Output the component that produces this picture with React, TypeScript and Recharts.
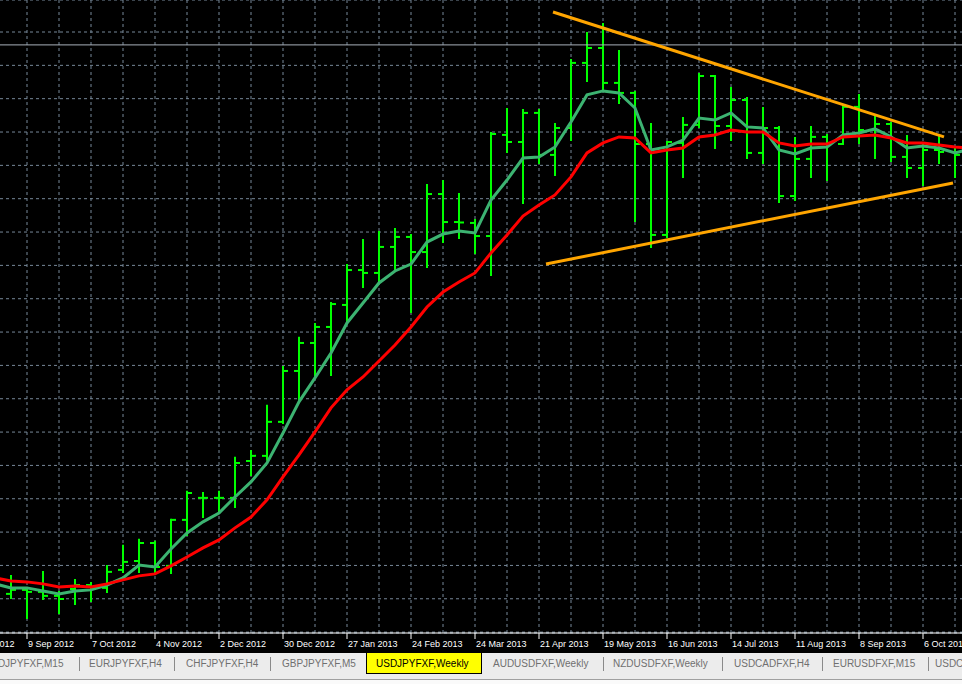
import React from 'react'
import { ComposedChart, Bar, Line, XAxis, YAxis, CartesianGrid, ReferenceLine } from 'recharts'

// USDJPY weekly bars, week 0 = 2 Sep 2012
const opens = [
  78.22, 78.40, 78.31, 78.13, 78.44, 78.62, 78.49, 79.30, 79.70, 80.51,
  79.48, 81.55, 82.54, 82.54, 82.54, 84.20, 84.43, 85.96, 88.25, 89.51,
  90.23, 91.22, 92.79, 92.66, 93.83, 94.28, 93.60, 96.21, 94.95, 94.91,
  94.32, 98.87, 98.55, 99.86, 97.97, 99.18, 102.11, 102.78, 101.21, 100.76,
  98.46, 94.37, 98.51, 99.32, 101.52, 99.27, 100.44, 98.06, 99.18, 96.12,
  97.79, 98.78, 98.46, 100.13, 99.09, 99.36, 97.88, 97.38, 98.19, 98.10,
]
const highs = [
  79.03, 78.44, 79.21, 78.31, 78.85, 78.71, 79.48, 80.38, 80.65, 80.56,
  81.55, 82.81, 82.76, 82.81, 84.34, 84.65, 86.68, 88.43, 89.74, 90.36,
  91.31, 93.02, 94.14, 94.50, 94.64, 94.37, 96.62, 96.80, 96.21, 95.04,
  98.96, 100.04, 99.99, 99.99, 99.36, 102.24, 103.46, 103.86, 102.65, 100.80,
  99.36, 98.55, 99.63, 101.61, 101.52, 100.98, 100.53, 100.08, 99.23, 98.73,
  99.23, 98.87, 100.22, 100.67, 99.77, 99.41, 98.82, 98.51, 98.87, 98.33,
]
const lows = [
  78.04, 77.14, 77.99, 77.36, 77.77, 77.90, 78.31, 79.21, 79.21, 79.16,
  79.16, 80.87, 81.68, 81.86, 82.13, 83.57, 84.25, 85.91, 86.95, 88.03,
  88.07, 90.41, 92.03, 92.21, 92.79, 90.90, 92.93, 94.05, 94.23, 93.56,
  92.57, 98.10, 95.81, 97.61, 97.07, 98.64, 101.30, 100.89, 100.31, 95.00,
  93.83, 94.28, 96.98, 99.23, 98.28, 98.64, 97.83, 97.61, 95.85, 95.94,
  96.98, 96.84, 98.46, 98.51, 97.83, 97.70, 96.98, 96.62, 97.61, 96.98,
]
const closes = [
  78.40, 78.31, 78.13, 77.99, 78.62, 78.53, 79.21, 79.66, 80.51, 79.43,
  81.55, 82.76, 82.54, 82.54, 84.11, 84.43, 85.96, 88.25, 89.51, 90.23,
  91.26, 92.79, 92.66, 93.83, 94.28, 93.60, 96.21, 94.95, 94.93, 94.32,
  98.91, 98.55, 99.86, 97.97, 99.18, 102.11, 102.78, 101.21, 100.76, 98.46,
  94.37, 98.55, 99.32, 101.52, 99.27, 100.44, 98.06, 99.18, 96.12, 97.79,
  98.78, 98.51, 100.13, 99.09, 99.36, 97.88, 97.38, 98.19, 98.10, 97.97,
]

// moving averages, first value = week before week 0, last = week after the last bar
const maFast = [
  78.67, 78.49, 78.49, 78.35, 78.22, 78.35, 78.40, 78.62, 78.94, 79.52, 79.43,
  80.24, 80.96, 81.46, 81.86, 82.58, 83.26, 84.11, 85.46, 86.86, 87.94,
  89.06, 90.41, 91.31, 92.21, 92.75, 93.06, 94.05, 94.41, 94.55, 94.46,
  95.94, 96.84, 97.83, 97.88, 98.33, 99.45, 100.67, 100.85, 100.76, 100.08,
  98.19, 98.33, 98.64, 99.63, 99.54, 99.86, 99.23, 99.18, 98.19, 98.01,
  98.28, 98.33, 98.87, 98.96, 99.14, 98.78, 98.28, 98.37, 98.28, 98.06,
  98.24,
]
const maSlow = [
  78.94, 78.80, 78.76, 78.67, 78.53, 78.58, 78.53, 78.67, 78.85, 79.03, 79.12,
  79.48, 79.88, 80.29, 80.65, 81.19, 81.68, 82.45, 83.48, 84.47, 85.51,
  86.59, 87.40, 87.98, 88.70, 89.42, 90.23, 91.13, 91.80, 92.25, 92.66,
  93.56, 94.37, 95.22, 95.72, 96.17, 96.98, 98.06, 98.51, 98.78, 98.73,
  98.06, 98.19, 98.28, 98.78, 98.87, 99.09, 99.00, 99.00, 98.51, 98.37,
  98.46, 98.46, 98.78, 98.82, 98.87, 98.73, 98.51, 98.51, 98.42, 98.33,
  98.28,
]

// a label every 4 weeks, first one = week -3
const dateLabels = [
  '12 Aug 2012', '9 Sep 2012', '7 Oct 2012', '4 Nov 2012', '2 Dec 2012', '30 Dec 2012',
  '27 Jan 2013', '24 Feb 2013', '24 Mar 2013', '21 Apr 2013', '19 May 2013', '16 Jun 2013',
  '14 Jul 2013', '11 Aug 2013', '8 Sep 2013', '6 Oct 2013',
]

// triangle drawn on the chart (week index, price)
const trendUpper = [{ x: 33.875, y: 104.4 }, { x: 58.3125, y: 98.78 }]
const trendLower = [{ x: 33.4375, y: 93.06 }, { x: 58.875, y: 96.71 }]
const priceLine = 102.92

const tabNames = [
  'CADJPYFXF,M15', 'EURJPYFXF,H4', 'CHFJPYFXF,H4', 'GBPJPYFXF,M5', 'USDJPYFXF,Weekly',
  'AUDUSDFXF,Weekly', 'NZDUSDFXF,Weekly', 'USDCADFXF,H4', 'EURUSDFXF,M15', 'USDCHFFXF,H1',
]
const activeTab = 'USDJPYFXF,Weekly'

// layout
const SHIFT = 48
const CHART_W = 1026
const CHART_H = 653
const X_DOMAIN: [number, number] = [-3.6875, 60.4375]
const Y_DOMAIN: [number, number] = [76.46, 104.94]
const tabX = [-16, 89, 186, 282, 376, 493, 613, 734, 833, 935]
const sepX = [79, 174, 270, 603, 722, 822, 928]

const rows = maFast.map((fast, k) => {
  const i = k - 1
  const has = i >= 0 && i < opens.length
  return {
    i,
    fast,
    slow: maSlow[k],
    open: has ? opens[i] : null,
    close: has ? closes[i] : null,
    high: has ? highs[i] : null,
    low: has ? lows[i] : null,
    range: has ? [lows[i], highs[i]] : null,
  }
})

const labelTicks = dateLabels.map((_, k) => -3 + 4 * k)
const gridTicks: number[] = []
for (let i = -3; i <= 61; i += 2) gridTicks.push(i)
const yTicks: number[] = []
for (let v = 76.5; v <= 105; v += 1.5) yTicks.push(v)

function OhlcBar(props: any) {
  const { x, y, width, height, payload } = props
  if (payload.high == null) return null
  const top = Math.min(y, y + height)
  const h = Math.abs(height)
  const cx = Math.round(x + width / 2)
  const span = payload.high - payload.low || 1
  const py = (v: number) => top + ((payload.high - v) / span) * h
  const yo = py(payload.open)
  const yc = py(payload.close)
  return (
    <g stroke="#00ff00" strokeWidth={2}>
      <line x1={cx} x2={cx} y1={top - 1} y2={top + h + 1} />
      <line x1={cx - 5} x2={cx} y1={yo} y2={yo} />
      <line x1={cx} x2={cx + 5} y1={yc} y2={yc} />
    </g>
  )
}

function DateTick(props: any) {
  const { x, y, payload } = props
  const k = Math.round((payload.value + 3) / 4)
  return (
    <text x={x + 1} y={y + 6} fill="#ffffff" fontSize={9} fontFamily='"Liberation Sans", Arial, sans-serif'>
      {dateLabels[k]}
    </text>
  )
}

export default function App() {
  return (
    <div style={{ position: 'fixed', left: 0, top: 0, width: 962, height: 684, overflow: 'hidden', background: '#000' }}>
      <div style={{ position: 'absolute', left: -SHIFT, top: 0 }}>
        <ComposedChart width={CHART_W} height={CHART_H} data={rows} margin={{ top: 0, right: 0, bottom: 0, left: 0 }}>
          <CartesianGrid xAxisId="grid" stroke="#778899" strokeDasharray="3 3" />
          <XAxis
            dataKey="i"
            type="number"
            domain={X_DOMAIN}
            allowDataOverflow
            ticks={labelTicks}
            interval={0}
            height={20}
            axisLine={{ stroke: '#ffffff' }}
            tickLine={{ stroke: '#ffffff' }}
            tickSize={6}
            tick={<DateTick />}
          />
          <XAxis xAxisId="grid" dataKey="i" type="number" domain={X_DOMAIN} allowDataOverflow ticks={gridTicks} interval={0} hide />
          <YAxis type="number" domain={Y_DOMAIN} allowDataOverflow ticks={yTicks} interval={0} hide />
          <ReferenceLine y={priceLine} stroke="#a9b1bb" strokeWidth={1} />
          <Bar dataKey="range" barSize={8} shape={<OhlcBar />} isAnimationActive={false} />
          <Line dataKey="fast" stroke="#3cb371" strokeWidth={3} dot={false} isAnimationActive={false} />
          <Line dataKey="slow" stroke="#ff0000" strokeWidth={3} dot={false} isAnimationActive={false} />
          <ReferenceLine segment={trendUpper} stroke="#ffa500" strokeWidth={3} />
          <ReferenceLine segment={trendLower} stroke="#ffa500" strokeWidth={3} />
        </ComposedChart>
      </div>
      <div
        style={{
          position: 'absolute', left: 0, top: 653, width: 962, height: 31, background: '#ececec',
          fontFamily: '"Liberation Sans", Arial, sans-serif', fontSize: 10, lineHeight: '12px',
        }}
      >
        <div style={{ position: 'absolute', left: 0, top: 26, width: 962, height: 1, background: '#a0a0a0' }} />
        <div style={{ position: 'absolute', left: 0, top: 27, width: 962, height: 4, background: '#fafafa' }} />
        {tabNames.map((name, k) =>
          name === activeTab ? (
            <div
              key={name}
              style={{
                position: 'absolute', left: tabX[k] - 10, top: 0, width: 116, height: 21, boxSizing: 'border-box',
                background: '#ffff00', border: '1px solid #000', borderTop: 'none',
              }}
            >
              <span style={{ position: 'absolute', left: 9, top: 5, color: '#000', whiteSpace: 'nowrap' }}>{name}</span>
            </div>
          ) : (
            <span key={name} style={{ position: 'absolute', left: tabX[k], top: 5, color: '#707070', whiteSpace: 'nowrap' }}>
              {name}
            </span>
          ),
        )}
        {sepX.map((x) => (
          <div key={x} style={{ position: 'absolute', left: x, top: 4, width: 1, height: 14, background: '#8a8a8a' }} />
        ))}
      </div>
    </div>
  )
}
